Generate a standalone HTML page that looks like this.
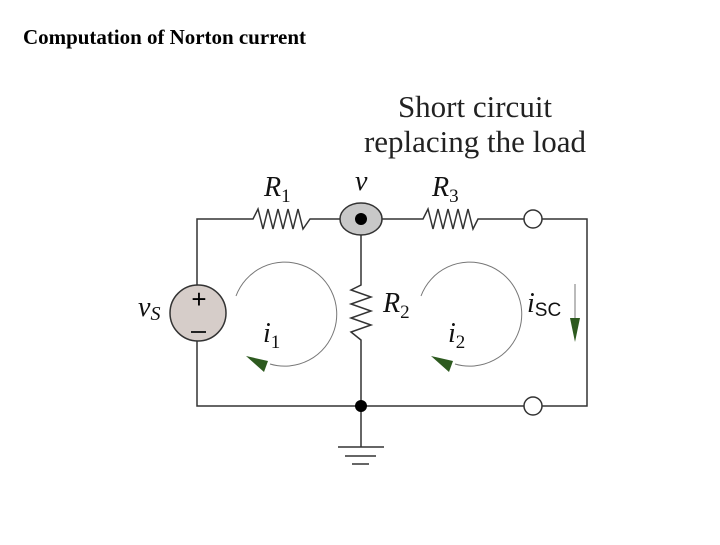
<!DOCTYPE html>
<html><head><style>
body{margin:0;background:#fff;width:720px;height:540px;overflow:hidden}
</style></head><body>
<svg width="720" height="540" xmlns="http://www.w3.org/2000/svg">
<text x="23" y="44" font-family="Liberation Serif" font-weight="bold" font-size="21" textLength="283">Computation of Norton current</text>
<g font-family="Liberation Serif" font-size="31" text-anchor="middle" fill="#222">
<text x="475" y="117">Short circuit</text>
<text x="475" y="152">replacing the load</text>
</g>
<g stroke="#333" stroke-width="1.5" fill="none">
<polyline points="197,285 197,219 253,219 258,209 263,229 268,209 273,229 278,209 283,229 288,209 293,229 298,209 303,229 310,219 423,219 428,209 433,229 438,209 443,229 448,209 453,229 458,209 463,229 468,209 473,229 478,219 524,219"/>
<polyline points="542,219 587,219 587,406 542,406"/>
<polyline points="524,406 197,406 197,341"/>
<polyline points="361,219 361,285 351,290 371,297 351,304 371,311 351,318 371,325 351,332 361,340 361,447"/>
<line x1="338" y1="447" x2="384" y2="447"/>
<line x1="345" y1="456" x2="376" y2="456"/>
<line x1="352" y1="464" x2="369" y2="464"/>
</g>
<ellipse cx="361" cy="219" rx="21" ry="16" fill="#c8c8c8" stroke="#333" stroke-width="1.5"/>
<circle cx="361" cy="219" r="6" fill="#000"/>
<circle cx="361" cy="406" r="6" fill="#000"/>
<circle cx="533" cy="219" r="9" fill="#fff" stroke="#333" stroke-width="1.5"/>
<circle cx="533" cy="406" r="9" fill="#fff" stroke="#333" stroke-width="1.5"/>
<circle cx="198" cy="313" r="28" fill="#d6cdc9" stroke="#333" stroke-width="1.5"/>
<text x="199" y="308" font-family="Liberation Sans" font-size="26" text-anchor="middle">+</text>
<line x1="191" y1="332" x2="206" y2="332" stroke="#222" stroke-width="2"/>
<g fill="none" stroke="#777" stroke-width="1">
<path d="M236,296 A52,52 0 1 1 270,364"/>
<path d="M421,296 A52,52 0 1 1 455,364"/>
<line x1="575" y1="284" x2="575" y2="340"/>
</g>
<polygon points="246,356 268,361 264,372" fill="#2d5a1f"/>
<polygon points="431,356 453,361 449,372" fill="#2d5a1f"/>
<polygon points="570,318 580,318 575,342" fill="#2d5a1f"/>
<g font-family="Liberation Serif" font-style="italic" font-size="28" fill="#111">
<text x="264" y="196">R<tspan font-style="normal" font-size="19" dy="6">1</tspan></text>
<text x="355" y="190">v</text>
<text x="432" y="196">R<tspan font-style="normal" font-size="19" dy="6">3</tspan></text>
<text x="383" y="312">R<tspan font-style="normal" font-size="19" dy="6">2</tspan></text>
<text x="138" y="316">v<tspan font-size="20" dy="4">S</tspan></text>
<text x="263" y="342">i<tspan font-style="normal" font-size="19" dy="6">1</tspan></text>
<text x="448" y="342">i<tspan font-style="normal" font-size="19" dy="6">2</tspan></text>
<text x="527" y="312">i<tspan font-style="normal" font-family="Liberation Sans" font-size="19" dy="4">SC</tspan></text>
</g>
</svg>
</body></html>
